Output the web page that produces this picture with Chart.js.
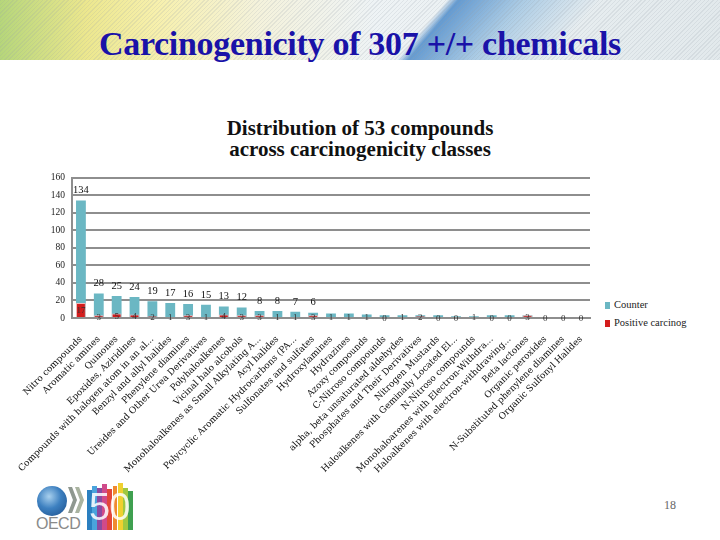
<!DOCTYPE html>
<html lang="en">
<head>
<meta charset="UTF-8">
<title>Carcinogenicity of 307 +/+ chemicals</title>
<script src="https://cdn.jsdelivr.net/npm/chart.js@4.4.1/dist/chart.umd.min.js"></script>
<style>
    body { margin: 0; width: 720px; height: 540px; background: #fff; position: relative; overflow: hidden; }
    .banner {
        position: absolute; left: 0; top: 0; width: 720px; height: 60px;
        background:
            repeating-linear-gradient(135deg, rgba(150,160,170,0.18) 0 1px, transparent 1px 3px),
            linear-gradient(130deg, transparent 58%, rgba(85,145,205,0.9) 59.5%, rgba(130,180,220,0.6) 68%, transparent 78%),
            linear-gradient(90deg, #b6d67a 0%, #ece78e 12%, #f7f0ad 22%, #f4f2dc 36%, #eef3f5 52%, #e2e9ec 100%);
    }
    .banner h1 {
        margin: 0; position: absolute; left: 0; width: 720px; top: 25px; text-align: center;
        font-family: "Liberation Serif", serif; font-weight: bold; font-size: 34px; line-height: 38px;
        color: #1a12a8; letter-spacing: -0.3px;
    }
    .subtitle {
        position: absolute; left: 0; width: 720px; top: 118px; text-align: center;
        font-family: "Liberation Serif", serif; font-weight: bold; font-size: 21px; line-height: 21px; color: #111;
    }
    #classChart { position: absolute; left: 0; top: 165px; }
    .legend { position: absolute; left: 605px; top: 298px; font-family: "Liberation Serif", serif; font-size: 10.5px; color: #222; }
    .legend div { height: 18px; line-height: 14px; }
    .legend span { display: inline-block; width: 5px; height: 7px; margin-right: 4px; vertical-align: -1px; }
    .page { position: absolute; left: 664px; top: 498px; font-family: "Liberation Serif", serif; font-size: 12px; color: #666; }
    .globe { position: absolute; left: 37px; top: 486px; width: 30px; height: 30px; border-radius: 50%;
        background: radial-gradient(circle at 40% 35%, #a8d0ee 0%, #3d80c0 45%, #1b4c88 100%); }
    .chev { position: absolute; top: 487px; width: 9px; height: 26px; background: #8f9890;
        clip-path: polygon(0 0, 45% 0, 100% 50%, 45% 100%, 0 100%, 55% 50%); }
    .oecd { position: absolute; left: 36px; top: 515px; font-family: "Liberation Sans", sans-serif; font-size: 16px; color: #8a8a8a; letter-spacing: -0.5px; }
    .fifty { position: absolute; left: 87px; top: 483px; width: 46px; height: 47px; display: flex; align-items: flex-end; }
    .fifty i { display: block; width: 5px; margin-right: 0.2px; }
    .fifty b { position: absolute; left: 2px; top: 4px; font-family: "Liberation Sans", sans-serif; font-size: 38px; line-height: 40px;
        color: rgba(255,255,255,0.85); font-weight: normal; letter-spacing: -1px; }
</style>
</head>
<body>
<div class="banner"><h1>Carcinogenicity of 307 +/+ chemicals</h1></div>
<div class="subtitle">Distribution of 53 compounds<br>across carcinogenicity classes</div>
<canvas id="classChart" width="600" height="320"></canvas>
<div class="legend">
    <div><span style="background:#6bb7c3"></span>Counter</div>
    <div><span style="background:#d41c1c"></span>Positive carcinog</div>
</div>
<div class="globe"></div>
<div class="chev" style="left:68px"></div>
<div class="chev" style="left:75px; background:#a9b3a0"></div>
<div class="oecd">OECD</div>
<div class="fifty">
    <i style="height:40px;background:#2a7fc0"></i><i style="height:44px;background:#4aa3dc"></i><i style="height:42px;background:#8a4aa0"></i>
    <i style="height:46px;background:#d04a8a"></i><i style="height:41px;background:#e2463a"></i><i style="height:44px;background:#f08a30"></i>
    <i style="height:47px;background:#f0d030"></i><i style="height:42px;background:#a0c840"></i><i style="height:39px;background:#3fa050"></i>
    <b>50</b>
</div>
<div class="page">18</div>

<script>
    const classes = [
        'Nitro compounds', 'Aromatic amines', 'Quinones', 'Epoxides, Aziridines',
        'Compounds with halogen atom in an al...', 'Benzyl and allyl halides', 'Phenylene diamines',
        'Ureides and Other Urea Derivatives', 'Polyhaloalkenes', 'Vicinal halo alcohols',
        'Monohaloalkenes as Small Alkylating A...', 'Acyl halides',
        'Polycyclic Aromatic Hydrocarbons (PA...', 'Sulfonates and sulfates', 'Hydroxylamines',
        'Hydrazines', 'Azoxy compounds', 'C-Nitroso compounds', 'alpha, beta unsaturated aldehydes',
        'Phosphates and Their Derivatives', 'Nitrogen Mustards', 'Haloalkenes with Geminally Located El...',
        'N-Nitroso compounds', 'Monohaloarenes with Electron-Withdra...', 'Haloalkenes with electron-withdrawing...',
        'Beta lactones', 'Organic peroxides', 'N-Substituted phenylene diamines', 'Organic Sulfonyl Halides'
    ];
    const counter = [134, 28, 25, 24, 19, 17, 16, 15, 13, 12, 8, 8, 7, 6, 5, 5, 4, 3, 3, 3, 3, 2, 2, 3, 3, 3, 1, 1, 1];
    const positive = [17, 3, 5, 4, 2, 1, 3, 1, 4, 3, 3, 1, 1, 3, 1, 1, 1, 0, 1, 2, 0, 0, 1, 0, 0, 3, 0, 0, 0];
    const yMax = 160;
    const yStep = 20;

    // value labels: counter above its bar, positive centred on its bar
    const valueLabels = {
        id: 'valueLabels',
        afterDatasetsDraw(chart) {
            const ctx = chart.ctx;
            ctx.save();
            ctx.textAlign = 'center';
            ctx.textBaseline = 'middle';
            ctx.font = '10.5px "Liberation Serif"';
            ctx.fillStyle = '#111';
            chart.getDatasetMeta(1).data.forEach((bar, i) => {
                if (counter[i] < 6) return;
                ctx.fillText(counter[i], bar.x, bar.y - 10);
            });
            ctx.font = '9px "Liberation Serif"';
            ctx.fillStyle = '#333';
            chart.getDatasetMeta(0).data.forEach((bar, i) => {
                ctx.fillText(positive[i], bar.x, (bar.y + bar.base) / 2 + 1);
            });
            ctx.restore();
        }
    };

    new Chart(document.getElementById('classChart'), {
        type: 'bar',
        data: {
            labels: classes,
            datasets: [
                { label: 'Positive carcinog', data: positive, backgroundColor: '#d41c1c', borderColor: '#f2b8b8', borderWidth: 1 },
                { label: 'Counter', data: counter, backgroundColor: '#6bb7c3' }
            ]
        },
        options: {
            responsive: false,
            animation: false,
            layout: { padding: { top: 9, right: 10, left: 0, bottom: 0 } },
            datasets: { bar: { categoryPercentage: 1, barPercentage: 0.55, grouped: false } },
            plugins: { legend: { display: false }, tooltip: { enabled: false } },
            scales: {
                x: {
                    grid: { display: false },
                    border: { color: '#8e8e8e', width: 2 },
                    ticks: {
                        autoSkip: false, minRotation: 45, maxRotation: 45, padding: 8,
                        color: '#111', font: { family: 'DejaVu Serif', size: 9 }
                    },
                    afterFit: (scale) => { scale.height = 167; }
                },
                y: {
                    min: 0, max: yMax,
                    ticks: { stepSize: yStep, padding: 7, color: '#222', font: { family: 'Liberation Serif', size: 9.5 } },
                    grid: { color: '#8e8e8e', lineWidth: 2, drawTicks: false },
                    border: { color: '#8e8e8e', width: 2 },
                    afterFit: (scale) => { scale.width = 72; }
                }
            }
        },
        plugins: [valueLabels]
    });
</script>
</body>
</html>
